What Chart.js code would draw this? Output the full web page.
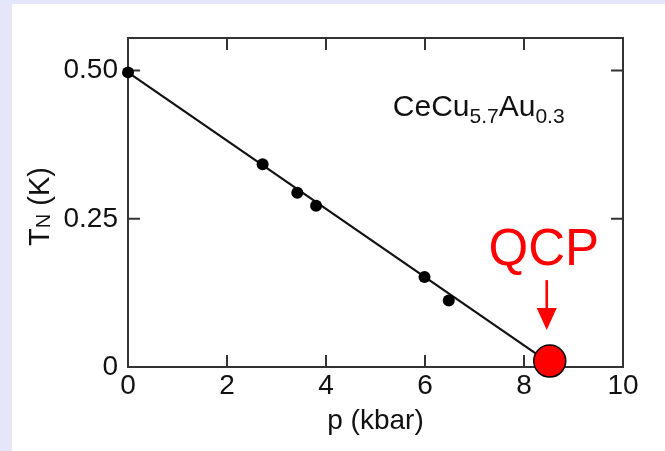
<!DOCTYPE html>
<html>
<head>
<meta charset="utf-8">
<script src="https://cdn.jsdelivr.net/npm/chart.js@4.4.1/dist/chart.umd.min.js"></script>
<style>
  html, body { margin: 0; padding: 0; background: #e6e6fa; overflow: hidden; }
  #panel { position: absolute; left: 12px; top: 4px; width: 653px; height: 447px; background: #fff; }
  canvas { display: block; }
</style>
</head>
<body>
<div id="panel"><canvas id="tn" width="653" height="447"></canvas></div>
<script>
// Néel temperature vs. pressure for CeCu5.7Au0.3
const pressure = [0, 2.72, 3.42, 3.80, 5.99, 6.48];
const tNeel = [0.497, 0.342, 0.294, 0.272, 0.152, 0.112];

// linear fit, extrapolated down to T_N = 0
const fitPressure = [0, 8.55];
const fitTNeel = [0.497, 0.005];

// quantum critical point
const qcpPressure = [8.52];
const qcpTNeel = [0.010];

const xTicks = [0, 2, 4, 6, 8, 10];
const yTicks = [0, 0.25, 0.5];
const yTickLabels = ['0', '0.25', '0.50'];

const FONT = '"Liberation Sans", Arial, Helvetica, sans-serif';
const INK = '#111';
const AXIS = '#333';
const RED = '#ff0000';
const TICK = 12;

const toXY = (xs, ys) => xs.map((x, i) => ({ x, y: ys[i] }));

// box around the plot with inward ticks on all four sides
const frameAndTicks = {
    id: 'frameAndTicks',
    beforeDatasetsDraw(chart) {
        const { ctx, chartArea: a, scales: { x, y } } = chart;
        ctx.save();
        ctx.strokeStyle = AXIS;
        ctx.lineWidth = 2;
        ctx.beginPath();
        ctx.moveTo(a.left, a.top);
        ctx.lineTo(a.right, a.top);
        ctx.lineTo(a.right, a.bottom);
        x.ticks.forEach((t) => {
            if (t.value <= x.min || t.value >= x.max) return;
            const px = x.getPixelForValue(t.value);
            ctx.moveTo(px, a.bottom); ctx.lineTo(px, a.bottom - TICK);
            ctx.moveTo(px, a.top); ctx.lineTo(px, a.top + TICK);
        });
        y.ticks.forEach((t) => {
            if (t.value <= y.min || t.value >= y.max) return;
            const py = y.getPixelForValue(t.value);
            ctx.moveTo(a.left, py); ctx.lineTo(a.left + TICK, py);
            ctx.moveTo(a.right, py); ctx.lineTo(a.right - TICK, py);
        });
        ctx.stroke();
        ctx.restore();
    },
};

// y title with subscript, formula label, QCP marker text and arrow
const labels = {
    id: 'labels',
    afterDatasetsDraw(chart) {
        const { ctx, chartArea: a, scales: { x, y } } = chart;
        ctx.save();
        ctx.fillStyle = INK;
        ctx.textBaseline = 'alphabetic';
        ctx.textAlign = 'left';

        // T_N (K), rotated
        const main = `29px ${FONT}`;
        const sub = `20px ${FONT}`;
        ctx.font = main;
        const wT = ctx.measureText('T').width;
        const wK = ctx.measureText(' (K)').width;
        ctx.font = sub;
        const wN = ctx.measureText('N').width;
        const total = wT + wN + wK;
        ctx.save();
        ctx.translate(37, (a.top + a.bottom) / 2 + 4);
        ctx.rotate(-Math.PI / 2);
        let tx = -total / 2;
        ctx.font = main; ctx.fillText('T', tx, 0); tx += wT;
        ctx.font = sub; ctx.fillText('N', tx, 1); tx += wN;
        ctx.font = main; ctx.fillText(' (K)', tx, 0);
        ctx.restore();

        // CeCu5.7Au0.3
        const parts = [['CeCu', false], ['5.7', true], ['Au', false], ['0.3', true]];
        let fx = x.getPixelForValue(5.35);
        const fy = y.getPixelForValue(0.423);
        parts.forEach(([s, isSub]) => {
            ctx.font = (isSub ? 21 : 30) + 'px ' + FONT;
            ctx.fillText(s, fx, fy + (isSub ? 7 : 0));
            fx += ctx.measureText(s).width;
        });

        // QCP label and arrow pointing at the critical point
        const cx = x.getPixelForValue(qcpPressure[0]);
        const cy = y.getPixelForValue(qcpTNeel[0]);
        ctx.fillStyle = RED;
        ctx.strokeStyle = RED;
        ctx.font = `51px ${FONT}`;
        ctx.textAlign = 'center';
        ctx.fillText('QCP', cx - 6, cy - 96);

        const ax = cx - 3;
        ctx.lineWidth = 2.6;
        ctx.beginPath();
        ctx.moveTo(ax, cy - 81);
        ctx.lineTo(ax, cy - 50);
        ctx.stroke();
        ctx.beginPath();
        ctx.moveTo(ax - 10, cy - 53);
        ctx.lineTo(ax + 10, cy - 53);
        ctx.lineTo(ax, cy - 31);
        ctx.closePath();
        ctx.fill();
        ctx.restore();
    },
};

new Chart(document.getElementById('tn'), {
    type: 'scatter',
    data: {
        datasets: [
            {
                label: 'QCP',
                data: toXY(qcpPressure, qcpTNeel),
                order: 0,
                pointRadius: 16,
                pointBackgroundColor: RED,
                pointBorderColor: '#000',
                pointBorderWidth: 1.5,
                clip: false,
            },
            {
                label: 'T_N',
                data: toXY(pressure, tNeel),
                order: 1,
                pointRadius: 6,
                pointBackgroundColor: '#000',
                pointBorderWidth: 0,
                clip: false,
            },
            {
                label: 'fit',
                type: 'line',
                data: toXY(fitPressure, fitTNeel),
                order: 2,
                borderColor: INK,
                borderWidth: 2.2,
                pointRadius: 0,
                fill: false,
                clip: false,
            },
        ],
    },
    options: {
        responsive: false,
        animation: false,
        events: [],
        layout: { padding: { left: 0, top: 34, right: 42, bottom: 0 } },
        plugins: {
            legend: { display: false },
            tooltip: { enabled: false },
        },
        scales: {
            x: {
                type: 'linear',
                min: 0,
                max: 10,
                afterBuildTicks: (s) => { s.ticks = xTicks.map((v) => ({ value: v })); },
                afterFit: (s) => { s.height = 84; },
                grid: { display: false, drawTicks: false },
                border: { display: true, color: AXIS, width: 2 },
                ticks: {
                    autoSkip: false,
                    maxRotation: 0,
                    padding: 2,
                    color: INK,
                    font: { family: FONT, size: 28 },
                },
                title: {
                    display: true,
                    text: 'p (kbar)',
                    color: INK,
                    font: { family: FONT, size: 28 },
                    padding: { top: 0, bottom: 13 },
                },
            },
            y: {
                type: 'linear',
                min: 0,
                max: 0.555,
                afterBuildTicks: (s) => { s.ticks = yTicks.map((v) => ({ value: v })); },
                afterFit: (s) => { s.width = 116; },
                grid: { display: false, drawTicks: false },
                border: { display: true, color: AXIS, width: 2 },
                ticks: {
                    autoSkip: false,
                    padding: 10,
                    color: INK,
                    font: { family: FONT, size: 28 },
                    callback: (v) => yTickLabels[yTicks.indexOf(v)],
                },
            },
        },
    },
    plugins: [frameAndTicks, labels],
});
</script>
</body>
</html>
